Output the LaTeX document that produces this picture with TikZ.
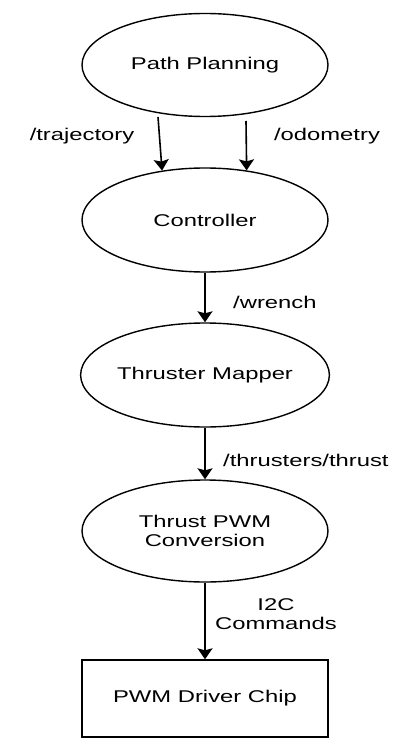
\documentclass[tikz,border=0pt]{standalone}
\usepackage{fontspec}
\setmainfont{Liberation Sans}[FakeStretch=1.4]
\usetikzlibrary{shapes.geometric,arrows.meta}
\begin{document}
\begin{tikzpicture}[x=1pt,y=-1pt,
  every node/.style={font=\fontsize{17}{19}\selectfont},
  proc/.style={ellipse,draw,line width=1.4pt,minimum width=246pt,minimum height=103pt,inner sep=0pt,align=center},
  chipbox/.style={rectangle,draw,line width=1.4pt,minimum width=246pt,minimum height=77pt,inner sep=0pt},
  arr/.style={line width=1.6pt,-{Stealth[width=15pt,length=11pt,inset=2pt]}},
  lbl/.style={inner sep=0pt,align=center}]
\useasboundingbox (0,0) rectangle (413,751);
\node[proc] (pp) at (205,65) {Path Planning};
\node[proc,minimum height=104pt] (ctrl) at (205,220) {Controller};
\node[proc,minimum height=104pt] (tm) at (205,375) {Thruster Mapper};
\node[proc,minimum height=102pt] (pwm) at (205,531) {Thrust PWM\\Conversion};
\node[chipbox] (chip) at (205,698.5) {PWM Driver Chip};
\coordinate (trajS) at (158,117);
\coordinate (odoS) at (246,121);
\draw[arr] (trajS) -- (ctrl.131);
\draw[arr] (odoS) -- (ctrl.50);
\draw[arr] (ctrl.south) -- (tm.north);
\draw[arr] (tm.south) -- (pwm.north);
\draw[arr] (pwm.south) -- (chip.north);
\node[lbl] (ltraj) at (82,136) {/trajectory};
\node[lbl] (lodo) at (327,136) {/odometry};
\node[lbl,anchor=west] (lwr) at (233,302) {/wrench};
\node[lbl,anchor=west] (lthr) at (223,460) {/thrusters/thrust};
\node[lbl] (li2c) at (276,614) {I2C\\Commands};
\end{tikzpicture}
\end{document}
